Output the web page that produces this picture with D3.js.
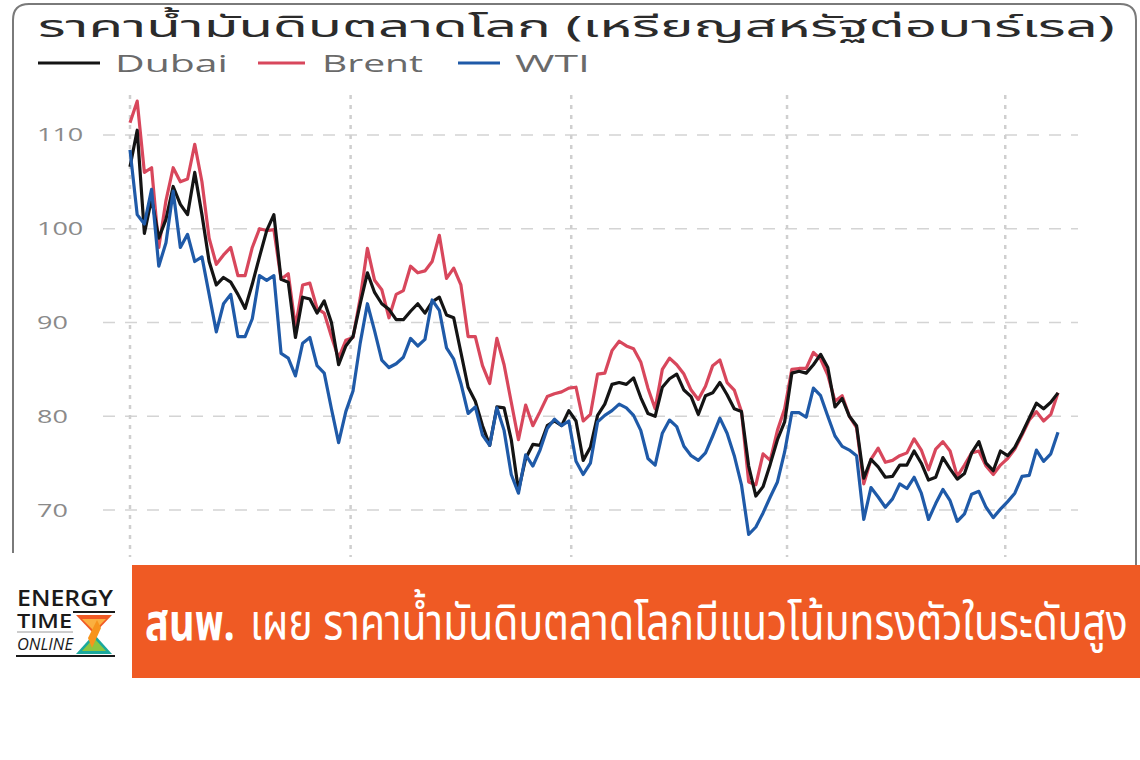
<!DOCTYPE html>
<html>
<head>
<meta charset="utf-8">
<script src="https://cdn.jsdelivr.net/npm/d3@7/dist/d3.min.js"></script>
<style>
  body { margin: 0; background: #fff; }
  svg { display: block; }
</style>
</head>
<body>
<div id="chart"></div>
<script>
var width = 1140;
var height = 760;

// one value every 3 calendar days from 1 Jul 2022
var startDate = new Date(2022, 6, 1);
var stepDays = 3;

var dubai = [106.6, 110.5, 99.5, 103.2, 99, 101, 104.5, 102.6, 101.5, 106, 101.5, 96.5, 94, 94.8, 94.3, 93, 91.5, 94.1, 97, 99.8,
  101.5, 94.6, 94.3, 88.4, 92.7, 92.5, 91, 92.3, 90, 85.5, 87.5, 88.5, 92, 95.3, 93.2, 92, 91.4, 90.3, 90.3, 91.2,
  92, 91, 92.2, 92.7, 90.8, 90.5, 86.8, 83.1, 81.6, 79, 76.9, 81, 80.9, 77.5, 72.1, 75.5, 77, 76.9, 79, 79.5,
  79, 80.6, 79.5, 75.3, 76.7, 80.1, 81.3, 83.4, 83.6, 83.4, 84.1, 82, 80.3, 80, 83.1, 84, 84.5, 82.8, 82.1, 80.2,
  82.2, 82.5, 83.6, 82.3, 80.8, 80.5, 74.7, 71.5, 72.5, 74.9, 77.5, 79.4, 84.6, 84.8, 84.6, 85.5, 86.6, 85.2, 81, 81.9,
  80, 79, 73.4, 75.4, 74.6, 73.5, 73.6, 74.8, 74.8, 76.3, 75, 73.2, 73.5, 75.6, 74.4, 73.3, 73.9, 76.1, 77.3, 75,
  74.2, 76.3, 75.8, 76.7, 78.2, 79.8, 81.4, 80.8, 81.5, 82.5];

var brent = [111.3, 113.6, 106, 106.5, 98, 103, 106.5, 105, 105.3, 109, 105, 99, 96.2, 97.2, 98, 95, 95, 98, 100, 99.8,
  99.9, 94.6, 95.2, 89.5, 94, 94.2, 91.5, 91, 88.5, 86.2, 88.1, 88.4, 92.6, 97.9, 94.5, 93.5, 90.5, 93, 93.4, 96,
  95.3, 95.5, 96.5, 99.3, 94.7, 95.8, 94, 88.5, 88.5, 85.4, 83.5, 88.3, 85.5, 81.5, 77.5, 81.2, 79, 80.5, 82.1, 82.4,
  82.6, 83, 83.1, 79.5, 80.2, 84.5, 84.6, 87, 88, 87.5, 87.2, 85.8, 83, 80.8, 85, 86.2, 85.5, 84.5, 82.8, 81.8,
  83.2, 85.4, 86, 83.6, 82.8, 80.5, 73, 72.7, 76, 75.3, 78.5, 80.8, 85, 85.1, 85.1, 86.8, 86.1, 84.4, 81.6, 82.2,
  80, 78.8, 72.8, 75.4, 76.6, 75.1, 75.3, 75.8, 76.1, 77.6, 76.4, 74.3, 76.5, 77.3, 76.3, 73.6, 74.8, 76.1, 76.3, 74.7,
  73.8, 74.8, 75.5, 76.5, 78, 79.6, 80.5, 79.5, 80.2, 82.5];

var wti = [108.4, 101.5, 100.5, 104.2, 96, 98.5, 104, 98, 99.4, 96.5, 97, 93, 89, 92, 93, 88.5, 88.5, 90.4, 95, 94.5,
  95, 86.7, 86.2, 84.3, 87.8, 88.4, 85.4, 84.6, 80.8, 77.2, 80.5, 82.7, 87.8, 92, 89.1, 86, 85.2, 85.6, 86.3, 88.3,
  87.5, 88.2, 92.4, 91.3, 87.3, 86.1, 83.5, 80.3, 81, 78, 76.9, 80.9, 78.5, 73.8, 71.8, 75.9, 74.7, 76.4, 78.7, 79.7,
  79, 79.5, 75.2, 73.8, 75, 79.4, 80.1, 80.6, 81.3, 80.9, 80.1, 78.5, 75.5, 74.8, 78.2, 79.6, 78.9, 76.8, 75.8, 75.3,
  76.1, 77.9, 79.8, 78.2, 75.8, 72.7, 67.4, 68.2, 69.7, 71.4, 73, 76.2, 80.4, 80.4, 79.9, 83, 82.2, 80, 77.9, 76.8,
  76.4, 75.8, 69, 72.4, 71.4, 70.3, 71.2, 72.8, 72.3, 73.5, 71.8, 69, 70.7, 72.2, 71, 68.8, 69.6, 71.7, 72, 70.3,
  69.2, 70.1, 70.9, 71.8, 73.6, 73.7, 76.4, 75.2, 76, 78.3];

var seriesNames = ['Dubai', 'Brent', 'WTI'];
var seriesColors = ['#141414', '#d8475c', '#1f5aa8'];
var yTicks = [70, 80, 90, 100, 110];
var quarterTicks = [new Date(2022, 6, 1), new Date(2022, 9, 1), new Date(2023, 0, 1), new Date(2023, 3, 1), new Date(2023, 6, 1)];
var titleText = 'ราคาน้ำมันดิบตลาดโลก (เหรียญสหรัฐต่อบาร์เรล)';
var headBold = 'สนพ.';
var headText = 'เผย ราคาน้ำมันดิบตลาดโลกมีแนวโน้มทรงตัวในระดับสูง';

var thaiFont = '"Noto Sans Thai", "Leelawadee UI", "Noto Sans", sans-serif';
var latinFont = '"Open Sans", "Noto Sans", sans-serif';

var dates = dubai.map(function(d, i) { return d3.timeDay.offset(startDate, i * stepDays); });

var svg = d3.select('#chart').append('svg')
  .attr('width', width).attr('height', height);

// the screenshot is stretched sideways: scale a text so its width hits w
function stretchText(sel, px, py, w, sy) {
  var nat = sel.node().getComputedTextLength();
  sel.attr('x', 0).attr('y', 0)
    .attr('transform', 'translate(' + px + ',' + py + ') scale(' + (w / nat) + ',' + (sy || 1) + ')');
}

var x = d3.scaleTime()
  .domain([dates[0], dates[dates.length - 1]])
  .range([130, 1058]);

var y = d3.scaleLinear()
  .domain([65, 115])
  .range([557, 88]);

// frame of the screenshot
svg.append('path')
  .attr('d', 'M13,553 L13,20 Q13,4 29,4 L1120,4 Q1136,4 1136,20 L1136,565')
  .attr('fill', 'none')
  .attr('stroke', '#7a7a7a')
  .attr('stroke-width', 2);

// title
var title = svg.append('text')
  .attr('font-family', thaiFont)
  .attr('font-size', 28)
  .attr('fill', '#2b2b2b')
  .text(titleText);
stretchText(title, 38, 37, 1077, 1.06);

// legend
var legendX = [[38, 100, 115, 113], [258, 305, 322, 101], [458, 500, 515, 75]];
seriesNames.forEach(function(name, i) {
  var p = legendX[i];
  svg.append('line')
    .attr('x1', p[0]).attr('x2', p[1])
    .attr('y1', 63).attr('y2', 63)
    .attr('stroke', seriesColors[i]).attr('stroke-width', 3);
  var t = svg.append('text')
    .attr('font-family', latinFont)
    .attr('font-size', 22)
    .attr('fill', '#6a6a6a')
    .text(name);
  stretchText(t, p[2], 72, p[3], 1.04);
});

// grid
svg.append('g').selectAll('line')
  .data(yTicks)
  .enter()
  .append('line')
  .attr('x1', 103).attr('x2', 1078)
  .attr('y1', function(d) { return y(d); })
  .attr('y2', function(d) { return y(d); })
  .attr('stroke', '#d4d4d4')
  .attr('stroke-width', 1.5)
  .attr('stroke-dasharray', '12,10');

svg.append('g').selectAll('line')
  .data(quarterTicks)
  .enter()
  .append('line')
  .attr('x1', function(d) { return x(d); })
  .attr('x2', function(d) { return x(d); })
  .attr('y1', 95).attr('y2', 557)
  .attr('stroke', '#cfcfcf')
  .attr('stroke-width', 2.5)
  .attr('stroke-dasharray', '4,6');

// y axis labels, left aligned
var yAxis = svg.append('g')
  .attr('transform', 'translate(37,0)')
  .call(d3.axisLeft(y).tickValues(yTicks).tickSize(0).tickPadding(0));
yAxis.select('.domain').remove();
yAxis.selectAll('text')
  .attr('x', 0)
  .attr('text-anchor', 'start')
  .attr('font-family', latinFont)
  .attr('font-size', 19)
  .attr('fill', '#8a8a8a')
  .each(function() {
    var w = this.getComputedTextLength();
    d3.select(this).attr('textLength', w * 1.42).attr('lengthAdjust', 'spacingAndGlyphs');
  });

// series lines
var line = d3.line()
  .x(function(d) { return x(d.date); })
  .y(function(d) { return y(d.v); });

var seriesData = [dubai, brent, wti];
[1, 0, 2].forEach(function(k) {
  var pts = seriesData[k].map(function(v, i) { return { date: dates[i], v: v }; });
  svg.append('path')
    .datum(pts)
    .attr('d', line)
    .attr('fill', 'none')
    .attr('stroke', seriesColors[k])
    .attr('stroke-width', 3.2)
    .attr('stroke-linejoin', 'round');
});

// headline banner
svg.append('rect')
  .attr('x', 132).attr('y', 565)
  .attr('width', 1008).attr('height', 113)
  .attr('fill', '#ef5a24');

var hb = svg.append('text')
  .attr('font-family', thaiFont)
  .attr('font-weight', 'bold')
  .attr('font-size', 44)
  .attr('fill', '#fff')
  .text(headBold);
stretchText(hb, 145, 640, 90, 1.15);

var ht = svg.append('text')
  .attr('font-family', thaiFont)
  .attr('font-size', 44)
  .attr('fill', '#fff')
  .text(headText);
stretchText(ht, 250, 640, 878, 1.15);

// logo
var logo = svg.append('g');
var e1 = logo.append('text').attr('font-family', latinFont).attr('font-size', 20).attr('font-weight', 600)
  .attr('fill', '#1a1a1a').text('ENERGY');
stretchText(e1, 17, 606, 96, 1.1);
var e2 = logo.append('text').attr('font-family', latinFont).attr('font-size', 18).attr('font-weight', 600)
  .attr('fill', '#1a1a1a').text('TIME');
stretchText(e2, 17, 628, 55, 1.1);
var e3 = logo.append('text').attr('font-family', latinFont).attr('font-size', 16).attr('font-style', 'italic')
  .attr('fill', '#1a1a1a').text('ONLINE');
stretchText(e3, 17, 650, 56, 1.05);
logo.append('line').attr('x1', 73).attr('x2', 115).attr('y1', 612).attr('y2', 612)
  .attr('stroke', '#1a1a1a').attr('stroke-width', 2);
logo.append('line').attr('x1', 17).attr('x2', 73).attr('y1', 632).attr('y2', 632)
  .attr('stroke', '#9a9a9a').attr('stroke-width', 1);
logo.append('line').attr('x1', 16).attr('x2', 115).attr('y1', 656).attr('y2', 656)
  .attr('stroke', '#1a1a1a').attr('stroke-width', 2);
// hourglass
logo.append('path').attr('d', 'M76,615 L112,615 L94,634 Z').attr('fill', '#f15a24');
logo.append('path').attr('d', 'M82,619 L106,619 L94,631 Z').attr('fill', '#fbb040');
logo.append('path').attr('d', 'M94,634 L76,654 L112,654 Z').attr('fill', '#1aa99d');
logo.append('path').attr('d', 'M94,638 L82,651 L106,651 Z').attr('fill', '#8dc63f');
logo.append('path').attr('d', 'M97,620 L88,638 L92,648 L101,628 Z').attr('fill', '#f7941d');
</script>
</body>
</html>
